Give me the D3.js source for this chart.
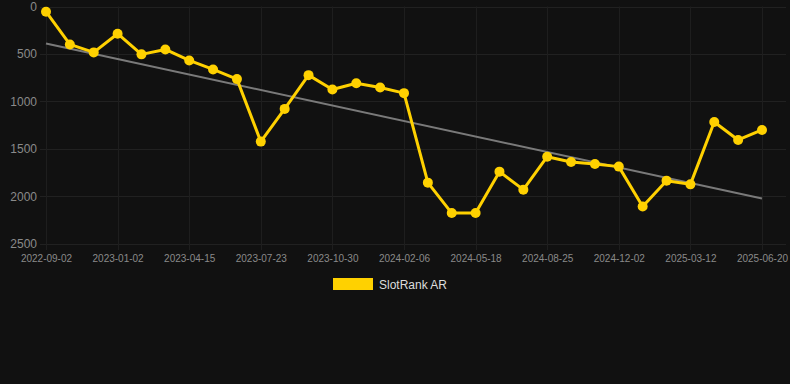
<!DOCTYPE html>
<html><head><meta charset="utf-8">
<script src="https://cdn.jsdelivr.net/npm/d3@7"></script>
<style>html,body{margin:0;padding:0;background:#111111;}svg{display:block;}</style>
</head><body><svg id="c" width="790" height="384"></svg>
<script>
const dates = ["2022-09-02","2022-10-13","2022-11-22","2023-01-02","2023-02-05","2023-03-11","2023-04-15","2023-05-18","2023-06-20","2023-07-23","2023-08-25","2023-09-27","2023-10-30","2023-12-02","2024-01-04","2024-02-06","2024-03-10","2024-04-14","2024-05-18","2024-06-20","2024-07-23","2024-08-25","2024-09-27","2024-10-30","2024-12-02","2025-01-04","2025-02-07","2025-03-12","2025-04-14","2025-05-17","2025-06-20"];
const ranks = [55,400,484,287,505,453,569,664,766,1425,1080,724,875,809,854,914,1858,2179,2179,1742,1932,1584,1640,1661,1689,2109,1837,1876,1218,1408,1302];
const trend = [390,2025];
const yTicks = [0,500,1000,1500,2000,2500];
const seriesName = "SlotRank AR";
const gold = "#ffd100";

const svg = d3.select("#c");
const x = d3.scalePoint().domain(dates).range([46,762]);
const y = d3.scaleLinear().domain([0,2500]).range([6.5,243.5]);
const font = "Arial, 'Liberation Sans', Helvetica, sans-serif";

// grid
const shownDates = dates.filter((d,i)=>i%3===0);
svg.append("g").selectAll("line").data(yTicks).join("line")
  .attr("x1",40).attr("x2",786).attr("y1",d=>Math.round(y(d))+0.5).attr("y2",d=>Math.round(y(d))+0.5)
  .attr("stroke","#212121").attr("stroke-width",1);
svg.append("g").selectAll("line").data(shownDates).join("line")
  .attr("x1",d=>Math.round(x(d))+0.5).attr("x2",d=>Math.round(x(d))+0.5).attr("y1",6.5).attr("y2",250)
  .attr("stroke","#1e1e1e").attr("stroke-width",1);

// y axis labels
const yAxis = d3.axisLeft(y).tickValues(yTicks).tickFormat(d3.format("d")).tickSize(0).tickPadding(0);
const gy = svg.append("g").attr("transform","translate(37,0)").call(yAxis);
gy.select(".domain").remove();
gy.selectAll("text").attr("fill","#8a8a8a").attr("font-family",font).attr("font-size",12).attr("dy","0.34em");

// x axis labels
const xAxis = d3.axisBottom(x).tickValues(shownDates).tickSize(0).tickPadding(0);
const gx = svg.append("g").attr("transform","translate(0,255)").call(xAxis);
gx.select(".domain").remove();
gx.selectAll("text").attr("fill","#8a8a8a").attr("font-family",font).attr("font-size",10).attr("dy","0.71em");

// trend
svg.append("line")
  .attr("x1",x(dates[0])).attr("y1",y(trend[0]))
  .attr("x2",x(dates[dates.length-1])).attr("y2",y(trend[1]))
  .attr("stroke","#7a7a7a").attr("stroke-width",2);

// series line
const line = d3.line().x((d,i)=>x(dates[i])).y(d=>y(d));
svg.append("path").datum(ranks).attr("d",line)
  .attr("fill","none").attr("stroke",gold).attr("stroke-width",3).attr("stroke-linejoin","round");
svg.append("g").selectAll("circle").data(ranks).join("circle")
  .attr("cx",(d,i)=>x(dates[i])).attr("cy",d=>y(d)).attr("r",5).attr("fill",gold);

// legend
svg.append("rect").attr("x",333).attr("y",278).attr("width",40).attr("height",12).attr("fill",gold);
svg.append("text").attr("x",379).attr("y",288.5).text(seriesName)
  .attr("fill","#dddddd").attr("font-family",font).attr("font-size",12);
</script></body></html>
